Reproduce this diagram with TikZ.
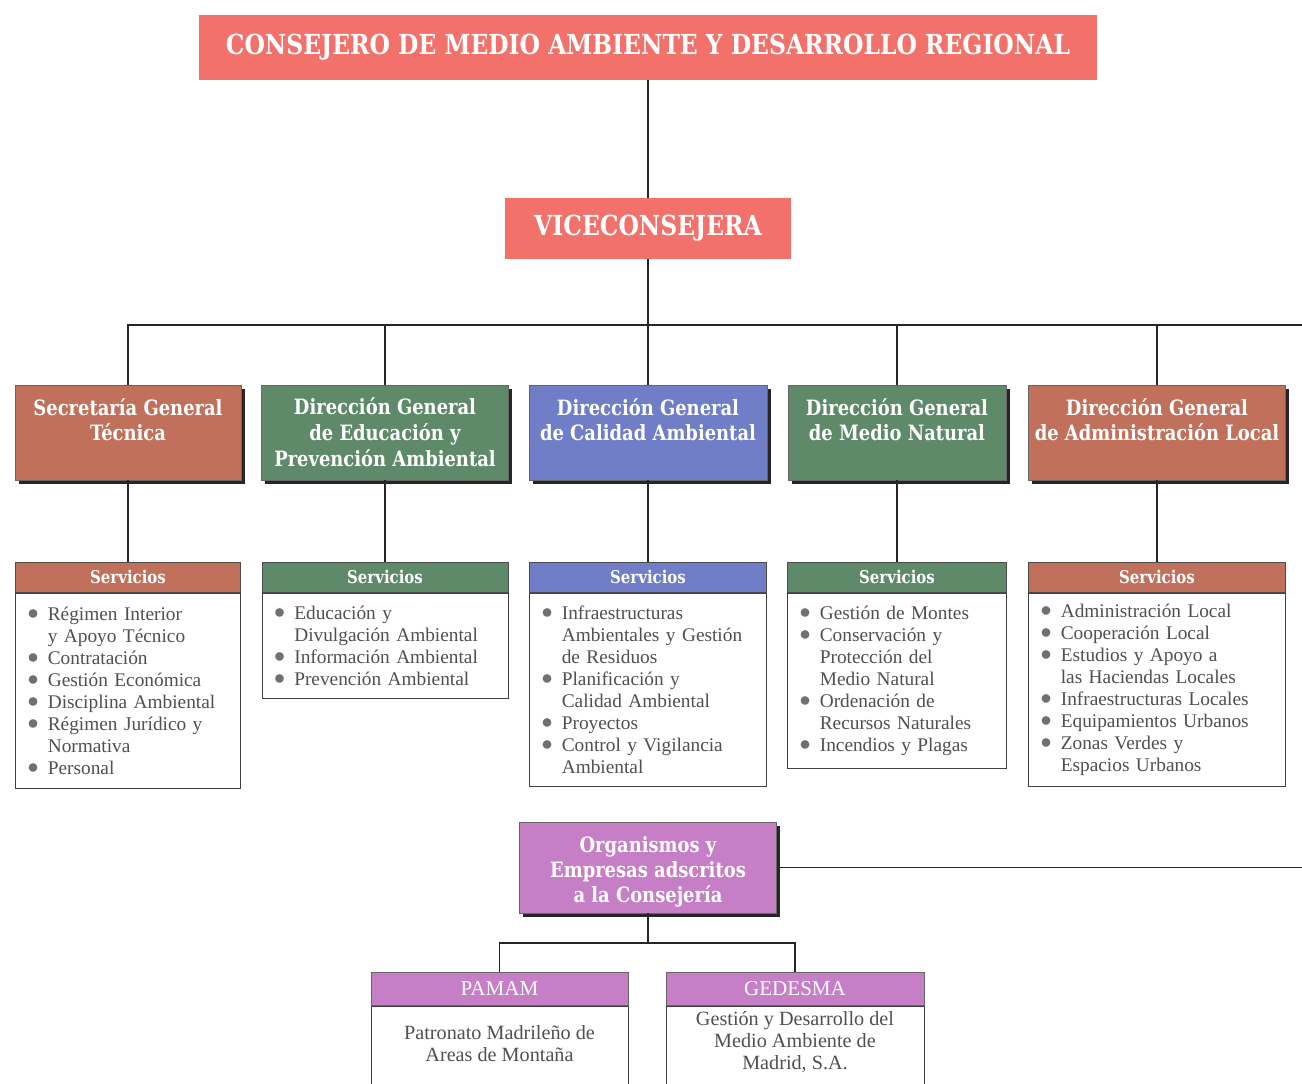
\documentclass[tikz,border=0pt]{standalone}
\usepackage{fontspec}
\setmainfont{Liberation Serif}
\newfontfamily\slab{DejaVu Serif}[FakeStretch=0.85]
\usepackage{graphicx}
\usepackage{tikz}
\usetikzlibrary{positioning,shadows}
\usepackage{xcolor}
\definecolor{coral}{HTML}{F2716A}
\definecolor{dgbrown}{HTML}{C1715B}
\definecolor{dggreen}{HTML}{5F8A69}
\definecolor{dgblue}{HTML}{6F7EC6}
\definecolor{orgviolet}{HTML}{C67EC6}
\definecolor{bodygray}{HTML}{505050}
\definecolor{bulgray}{HTML}{707070}

\newcommand{\itembul}{\makebox[1.05em][l]{\textcolor{bulgray}{\raisebox{0.1ex}{\scalebox{1.15}{$\bullet$}}}}}
\newcommand{\itemcont}{\hspace*{1.05em}}
\newcommand{\nohyph}{\hyphenpenalty=10000\relax}

\tikzset{
  headbox/.style={fill=coral, text=white, inner sep=0pt,
    font=\slab\bfseries\fontsize{15.7}{19}\selectfont},
  dgbox/.style={fill=#1, text=white, align=center, inner sep=0pt,
    minimum height=1.9cm, draw=black!60, line width=0.3pt,
    drop shadow={shadow xshift=2.2pt, shadow yshift=-2.2pt, fill=black!85, opacity=1},
    font=\slab\bfseries\fontsize{12}{14.7}\selectfont},
  srvhead/.style={fill=#1, text=white, anchor=north, inner sep=0pt,
    minimum height=0.6cm, draw=black!70, line width=0.4pt,
    font=\slab\bfseries\fontsize{10}{12}\selectfont},
  listbox/.style={draw=black!75, fill=white, anchor=north, align=left,
    inner xsep=0.24cm, inner ysep=0pt, line width=0.5pt, text=bodygray,
    font=\fontsize{11}{12.5}\selectfont\nohyph},
  orghead/.style={fill=orgviolet, text=white, anchor=north, inner sep=0pt,
    minimum height=0.66cm, draw=black!60, line width=0.4pt,
    font=\fontsize{12}{14}\selectfont},
  orgtext/.style={text=bodygray, align=center, inner sep=0pt,
    font=\fontsize{11.5}{12.5}\selectfont},
  link/.style={draw=black!85, line width=1pt}
}

\begin{document}
\begin{tikzpicture}[x=0.02cm,y=-0.02cm]
  \clip (0,0) rectangle (1302,1084);
  \fill[white] (0,0) rectangle (1302,1084);

  % top of the chart
  \node[headbox, minimum width=17.96cm, minimum height=1.3cm] (consejero) at (648,47.5)
    {CONSEJERO DE MEDIO AMBIENTE Y DESARROLLO REGIONAL};
  \node[headbox, minimum width=5.72cm, minimum height=1.22cm] (vice) at (648,228.5)
    {VICECONSEJERA};

  % direcciones generales
  \node[dgbox=dgbrown, minimum width=4.52cm] (dgA) at (128,432.5) {Secretaría General\\Técnica\\\mbox{}};
  \node[dgbox=dggreen, minimum width=4.94cm] (dgB) at (385,432.5) {Dirección General\\de Educación y\\Prevención Ambiental};
  \node[dgbox=dgblue, minimum width=4.76cm] (dgC) at (648,432.5) {Dirección General\\de Calidad Ambiental\\\mbox{}};
  \node[dgbox=dggreen, minimum width=4.36cm] (dgD) at (897,432.5) {Dirección General\\de Medio Natural\\\mbox{}};
  \node[dgbox=dgbrown, minimum width=5.14cm] (dgE) at (1157,432.5) {Dirección General\\de Administración Local\\\mbox{}};

  % servicios
  \node[srvhead=dgbrown, minimum width=4.5cm] (srvA) at (128,562) {Servicios};
  \node[listbox, text width=4.02cm, minimum height=3.9cm] (lstA) at (srvA.south) {%
    \itembul Régimen Interior\\
    \itemcont y Apoyo Técnico\\
    \itembul Contratación\\
    \itembul Gestión Económica\\
    \itembul Disciplina Ambiental\\
    \itembul Régimen Jurídico y\\
    \itemcont Normativa\\
    \itembul Personal};

  \node[srvhead=dggreen, minimum width=4.92cm] (srvB) at (385,562) {Servicios};
  \node[listbox, text width=4.44cm, minimum height=2.1cm] (lstB) at (srvB.south) {%
    \itembul Educación y\\
    \itemcont Divulgación Ambiental\\
    \itembul Información Ambiental\\
    \itembul Prevención Ambiental};

  \node[srvhead=dgblue, minimum width=4.74cm] (srvC) at (648,562) {Servicios};
  \node[listbox, text width=4.26cm, minimum height=3.86cm] (lstC) at (srvC.south) {%
    \itembul Infraestructuras\\
    \itemcont Ambientales y Gestión\\
    \itemcont de Residuos\\
    \itembul Planificación y\\
    \itemcont Calidad Ambiental\\
    \itembul Proyectos\\
    \itembul Control y Vigilancia\\
    \itemcont Ambiental};

  \node[srvhead=dggreen, minimum width=4.38cm] (srvD) at (897,562) {Servicios};
  \node[listbox, text width=3.9cm, minimum height=3.5cm] (lstD) at (srvD.south) {%
    \itembul Gestión de Montes\\
    \itembul Conservación y\\
    \itemcont Protección del\\
    \itemcont Medio Natural\\
    \itembul Ordenación de\\
    \itemcont Recursos Naturales\\
    \itembul Incendios y Plagas};

  \node[srvhead=dgbrown, minimum width=5.14cm] (srvE) at (1157,562) {Servicios};
  \node[listbox, text width=4.66cm, minimum height=3.86cm] (lstE) at (srvE.south) {%
    \itembul Administración Local\\
    \itembul Cooperación Local\\
    \itembul Estudios y Apoyo a\\
    \itemcont las Haciendas Locales\\
    \itembul Infraestructuras Locales\\
    \itembul Equipamientos Urbanos\\
    \itembul Zonas Verdes y\\
    \itemcont Espacios Urbanos};

  % organismos y empresas
  \node[dgbox=orgviolet, minimum width=5.14cm, minimum height=1.82cm,
    font=\slab\bfseries\fontsize{12}{14.3}\selectfont] (org) at (648,867.5)
    {\rule{0pt}{14pt}Organismos y\\Empresas adscritos\\a la Consejería};

  \node[orghead, minimum width=5.14cm] (pamHead) at (499.5,972) {PAMAM};
  \node[listbox, minimum width=5.14cm, minimum height=2.4cm, inner xsep=0pt] (pamBody) at (pamHead.south) {};
  \node[orgtext] (pamText) at (499.5,1044) {Patronato Madrileño de\\Areas de Montaña};

  \node[orghead, minimum width=5.16cm] (gedHead) at (795,972) {GEDESMA};
  \node[listbox, minimum width=5.16cm, minimum height=2.4cm, inner xsep=0pt] (gedBody) at (gedHead.south) {};
  \node[orgtext] (gedText) at (795,1042) {Gestión y Desarrollo del\\Medio Ambiente de\\Madrid, S.A.};

  % connectors
  \coordinate (busTop) at (648,325);
  \coordinate (busRight) at (1302,325);
  \coordinate (orgRight) at (1302,867.5);
  \coordinate (orgFork) at (648,943);

  \draw[link] (consejero.south) -- (vice.north);
  \draw[link] (vice.south) -- (busTop);
  \draw[link] (dgA.north) |- (busRight);
  \foreach \dg in {dgB,dgC,dgD,dgE}
    \draw[link] (\dg.north) -- (\dg.north |- busTop);
  \foreach \dg/\srv in {dgA/srvA,dgB/srvB,dgC/srvC,dgD/srvD,dgE/srvE}
    \draw[link] (\dg.south) -- (\srv.north);
  \draw[link] (org.east) -- (orgRight);
  \draw[link] (org.south) -- (orgFork);
  \draw[link] (pamHead.north) |- (orgFork) -| (gedHead.north);
\end{tikzpicture}
\end{document}
